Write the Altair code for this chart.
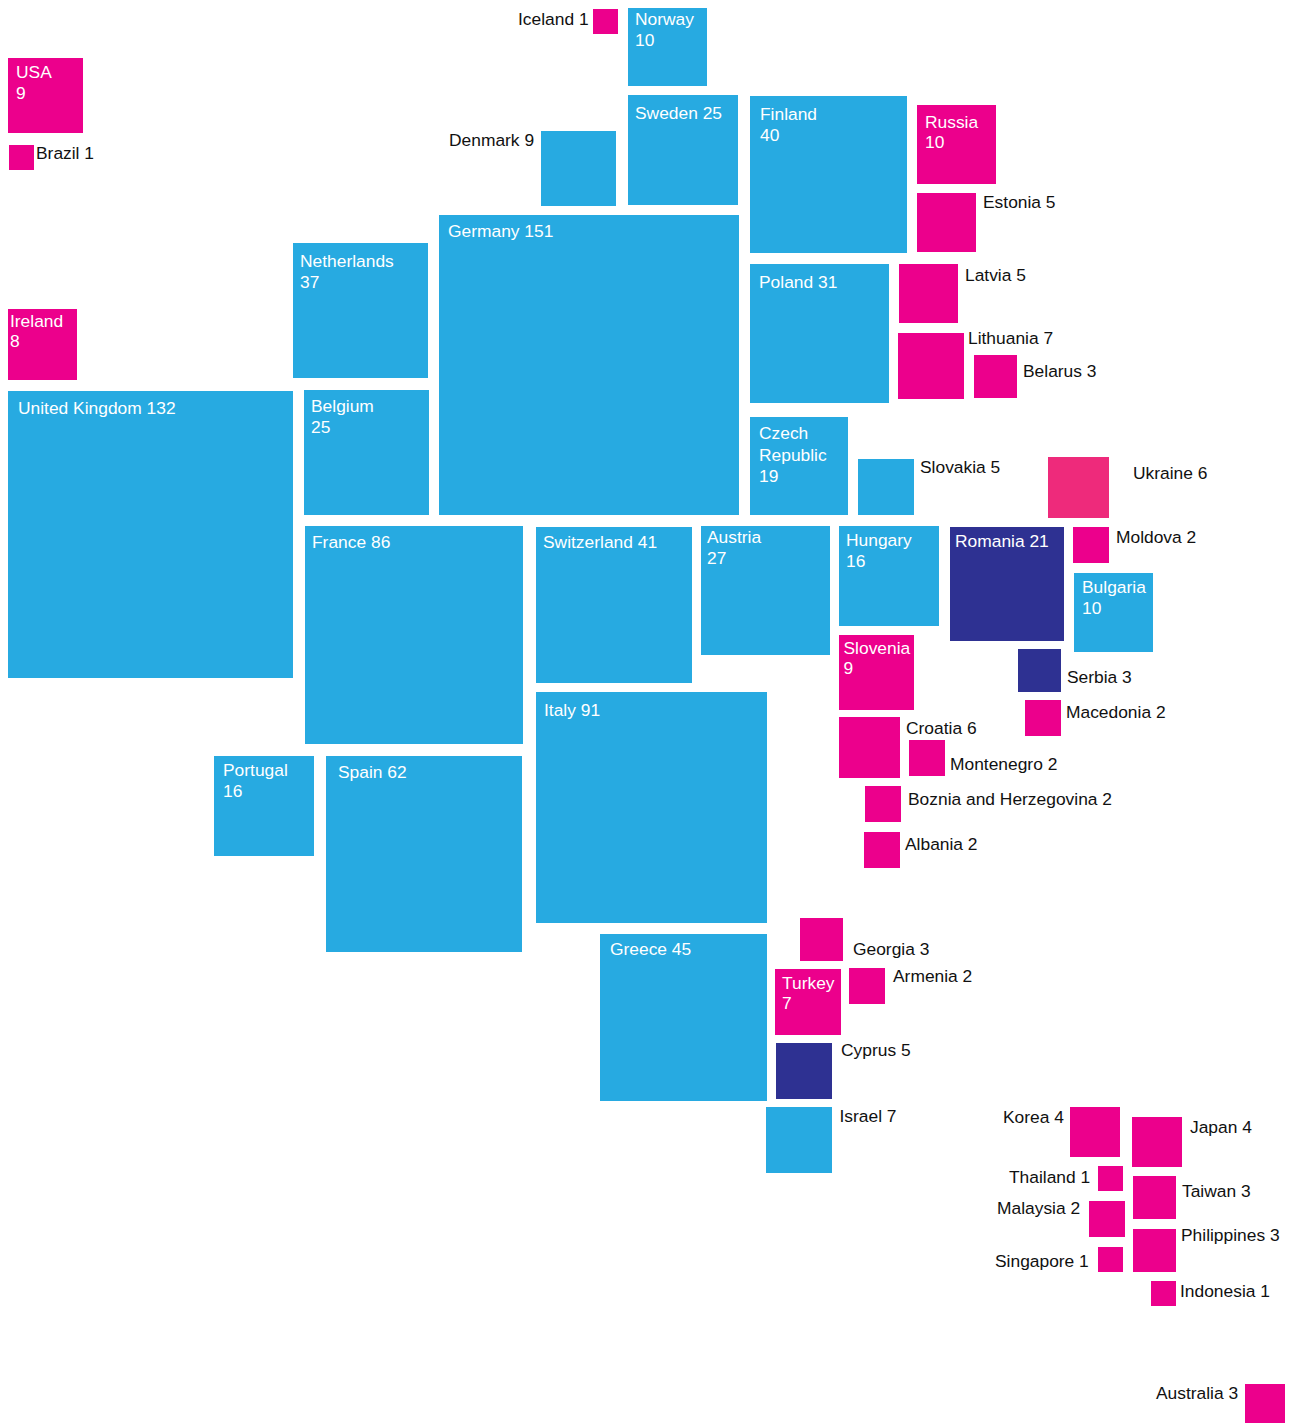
import altair as alt
import pandas as pd

countries = ["Iceland","Norway","USA","Brazil","Denmark","Sweden","Finland","Russia","Estonia","Germany",
             "Netherlands","Ireland","United Kingdom","Belgium","Poland","Latvia","Lithuania","Belarus",
             "Czech Republic","Slovakia","Ukraine","France","Switzerland","Austria","Hungary","Romania",
             "Moldova","Bulgaria","Slovenia","Serbia","Macedonia","Croatia","Montenegro","Bosnia","Albania",
             "Italy","Portugal","Spain","Greece","Georgia","Turkey","Armenia","Cyprus","Israel","Korea",
             "Japan","Thailand","Taiwan","Malaysia","Philippines","Singapore","Indonesia","Australia"]
groups = ["p","b","p","p","b","b","b","p","p","b",
          "b","p","b","b","b","p","p","p",
          "b","b","u","b","b","b","b","d",
          "p","b","p","d","p","p","p","p","p",
          "b","b","b","b","p","p","p","d","b","p",
          "p","p","p","p","p","p","p","p"]
box_x = [593,628,8,9,541,628,750,917,917,439,
         293,6,6,304,750,899,898,974,
         750,858,1048,305,536,701,839,950,
         1073,1074,839,1018,1025,839,909,865,864,
         536,214,326,600,800,775,849,776,766,1070,
         1132,1098,1133,1089,1133,1098,1151,1245]
box_y = [9,7,58,145,131,95,96,105,193,215,
         243,309,391,390,264,264,333,355,
         417,459,457,526,527,526,526,527,
         527,573,635,649,700,717,740,786,832,
         692,756,756,934,918,969,968,1043,1107,1107,
         1117,1166,1176,1201,1229,1247,1281,1384]
box_side = [25,79,75,25,75,110,157,79,59,300,
            135,71,287,125,139,59,66,43,
            98,56,61,218,156,129,100,114,
            36,79,75,43,36,61,36,36,36,
            231,100,196,167,43,66,36,56,66,50,
            50,25,43,36,43,25,25,43]

label_text = ["Iceland 1","Norway","10","USA","9","Brazil 1","Denmark 9","Sweden 25","Finland","40",
              "Russia","10","Estonia 5","Germany 151","Netherlands","37","Ireland","8",
              "United Kingdom 132","Belgium","25","Poland 31","Latvia 5","Lithuania 7","Belarus 3",
              "Czech","Republic","19","Slovakia 5","Ukraine 6","France 86","Switzerland 41",
              "Austria","27","Hungary","16","Romania 21","Moldova 2","Bulgaria","10","Slovenia","9",
              "Serbia 3","Macedonia 2","Croatia 6","Montenegro 2","Boznia and Herzegovina 2","Albania 2",
              "Italy 91","Portugal","16","Spain 62","Greece 45","Georgia 3","Turkey","7","Armenia 2",
              "Cyprus 5","Israel 7","Korea 4","Japan 4","Thailand 1","Taiwan 3","Malaysia 2",
              "Philippines 3","Singapore 1","Indonesia 1","Australia 3"]
label_x = [518,635,635,16,16,36,449,635,760,760,
           925,925,983,448,300,300,10,10,
           18,311,311,759,965,968,1023,
           759,759,759,920,1133,312,543,
           707,707,846,846,955,1116,1082,1082,843.5,843.5,
           1067,1066,906,950,908,905,
           544,223,223,338,610,853,782,782,893,
           841,839.5,1003,1190,1009,1182,997,
           1181,995,1180,1156]
label_y = [25,25,46,78,99,159,146,119,120,141,
           127.5,148,208,237,267,288,327,347,
           414,412,433,288,281,344,377,
           439,461,482,473,479,548,548,
           543,564,546,567,547,543,593,614,653.5,674,
           683,718,734,770,805,850,
           716,776,797,778,955,955,988.5,1009,982,
           1056,1122,1123,1133,1183,1197,1214,
           1241,1267,1297,1399]
label_inside = [0,1,1,1,1,0,0,1,1,1,
                1,1,0,1,1,1,1,1,
                1,1,1,1,0,0,0,
                1,1,1,0,0,1,1,
                1,1,1,1,1,0,1,1,1,1,
                0,0,0,0,0,0,
                1,1,1,1,1,0,1,1,0,
                0,0,0,0,0,0,0,
                0,0,0,0]

boxes = pd.DataFrame({"country": countries, "group": groups, "x0": box_x, "y0": box_y, "side": box_side})
boxes["x1"] = boxes["x0"] + boxes["side"]
boxes["y1"] = boxes["y0"] + boxes["side"]
labels = pd.DataFrame({"text": label_text, "x": label_x, "y": label_y,
                       "tone": ["in" if v else "out" for v in label_inside]})

x_scale = alt.Scale(domain=[8, 1285], range=[0, 1277], nice=False, zero=False)
y_scale = alt.Scale(domain=[8, 1423], range=[0, 1415], nice=False, zero=False)

rects = alt.Chart(boxes).mark_rect().encode(
    x=alt.X("x0:Q", scale=x_scale, axis=None),
    x2="x1:Q",
    y=alt.Y("y0:Q", scale=y_scale, axis=None),
    y2="y1:Q",
    color=alt.Color("group:N", legend=None,
                    scale=alt.Scale(domain=["b", "p", "d", "u"],
                                    range=["#27AAE1", "#EC008C", "#2E3192", "#EE2A7B"])),
)

texts = alt.Chart(labels).mark_text(
    align="left", baseline="alphabetic", font="Liberation Sans", fontSize=17.4
).encode(
    x=alt.X("x:Q", scale=x_scale, axis=None),
    y=alt.Y("y:Q", scale=y_scale, axis=None),
    text="text:N",
    color=alt.Color("tone:N", legend=None,
                    scale=alt.Scale(domain=["in", "out"], range=["#FFFFFF", "#111111"])),
)

chart = (
    alt.layer(rects, texts)
    .resolve_scale(color="independent")
    .properties(width=1277, height=1415, padding=0,
                autosize=alt.AutoSizeParams(type="none"), background="white")
    .configure_view(strokeWidth=0)
)

chart.save("out.html", embed_options={"renderer": "svg", "actions": False})
